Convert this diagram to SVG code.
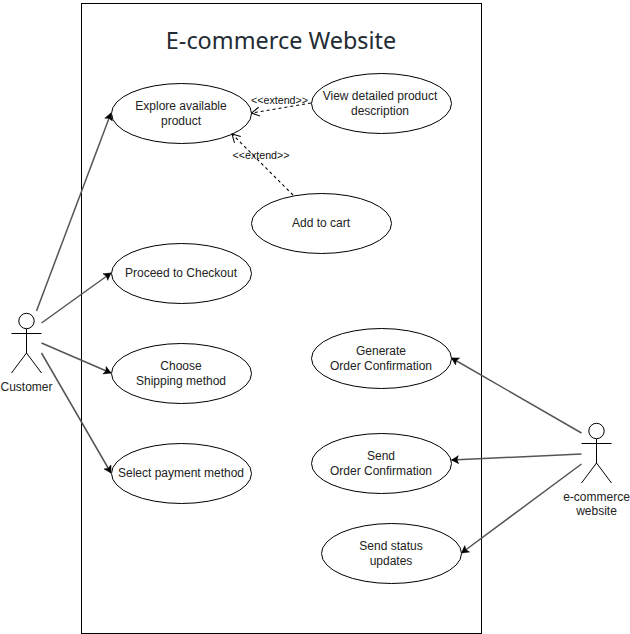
<svg xmlns="http://www.w3.org/2000/svg" width="630" height="634" viewBox="0 0 630 634">
<style>
text{font-family:"Liberation Sans",Arial,sans-serif;font-size:12px;fill:#222;text-anchor:middle}
.u{fill:#fff;stroke:#000;stroke-width:1}
.a{fill:none;stroke:#000;stroke-width:1}
.c{fill:none;stroke:#555;stroke-width:1.500;marker-end:url(#solid)}
.d{fill:none;stroke:#000;stroke-width:1.100;stroke-dasharray:3 3;marker-end:url(#open)}
.l{font-size:10.700px;fill:#111}
.t{font-family:"Noto Sans","Open Sans",sans-serif;font-size:23.400px;fill:#232b33}
</style>
<defs>
<marker id="solid" markerUnits="userSpaceOnUse" markerWidth="10" markerHeight="10" refX="8" refY="5" orient="auto" viewBox="0 0 10 10"><path d="M1 1L8 5L1 9L2.500 5Z" fill="#000" stroke="#000" stroke-width="0.500"/></marker>
<marker id="open" markerUnits="userSpaceOnUse" markerWidth="12" markerHeight="12" refX="11" refY="6" orient="auto" viewBox="0 0 12 12"><path d="M3 1.500L11 6L3 10.500" fill="none" stroke="#000" stroke-width="1"/></marker>
</defs>
<rect id="boundary" x="81.500" y="3.500" width="400" height="630" fill="#fff" stroke="#000" stroke-width="1"/>
<text class="t" x="281" y="48.500">E-commerce Website</text>
<g id="explore"><ellipse class="u" cx="181.500" cy="113.500" rx="70" ry="30"/><text x="181" y="110">Explore available</text><text x="181" y="125">product</text></g>
<g id="view"><ellipse class="u" cx="381.500" cy="103.500" rx="70" ry="30"/><text x="380" y="100">View detailed product</text><text x="380" y="115">description</text></g>
<g id="cart"><ellipse class="u" cx="321.500" cy="223.500" rx="70" ry="30"/><text x="321" y="227">Add to cart</text></g>
<g id="checkout"><ellipse class="u" cx="181.500" cy="273.500" rx="70" ry="30"/><text x="181" y="277">Proceed to Checkout</text></g>
<g id="shipping"><ellipse class="u" cx="181.500" cy="373.500" rx="70" ry="30"/><text x="181" y="370">Choose</text><text x="181" y="385">Shipping method</text></g>
<g id="payment"><ellipse class="u" cx="181.500" cy="473.500" rx="70" ry="30"/><text x="181" y="477">Select payment method</text></g>
<g id="generate"><ellipse class="u" cx="381.500" cy="358.500" rx="70" ry="30"/><text x="381" y="355">Generate</text><text x="381" y="370">Order Confirmation</text></g>
<g id="send"><ellipse class="u" cx="381.500" cy="463.500" rx="70" ry="30"/><text x="381" y="460">Send</text><text x="381" y="475">Order Confirmation</text></g>
<g id="status"><ellipse class="u" cx="391.500" cy="553.500" rx="70" ry="30"/><text x="391" y="550">Send status</text><text x="391" y="565">updates</text></g>
<g id="customer"><circle class="a" cx="26.500" cy="321" r="7.700"/><path class="a" d="M26.500 329V353M11.500 333.500H41.500M11.500 373L26.500 353L41.500 373"/><text x="26.500" y="391">Customer</text></g>
<g id="ecommerce"><circle class="a" cx="596.500" cy="431" r="7.700"/><path class="a" d="M596.500 439V463M581.500 443.500H611.500M581.500 483L596.500 463L611.500 483"/><text x="596.500" y="501">e-commerce</text><text x="596.500" y="515">website</text></g>
<g id="connectors">
<path class="c" d="M36.500 311L111 113"/>
<path class="c" d="M41.500 323L111 273"/>
<path class="c" d="M41.500 343L111 373"/>
<path class="c" d="M41.500 353L111 473"/>
<path class="c" d="M581.500 433L451.500 358"/>
<path class="c" d="M581.500 454L451.500 460"/>
<path class="c" d="M581.500 464L461.500 553"/>
<path class="d" d="M311 103L251.500 113"/>
<path class="d" d="M293 195L232 134"/>
<text class="l" x="279.500" y="104">&lt;&lt;extend&gt;&gt;</text>
<text class="l" x="261" y="159">&lt;&lt;extend&gt;&gt;</text>
</g>
</svg>
